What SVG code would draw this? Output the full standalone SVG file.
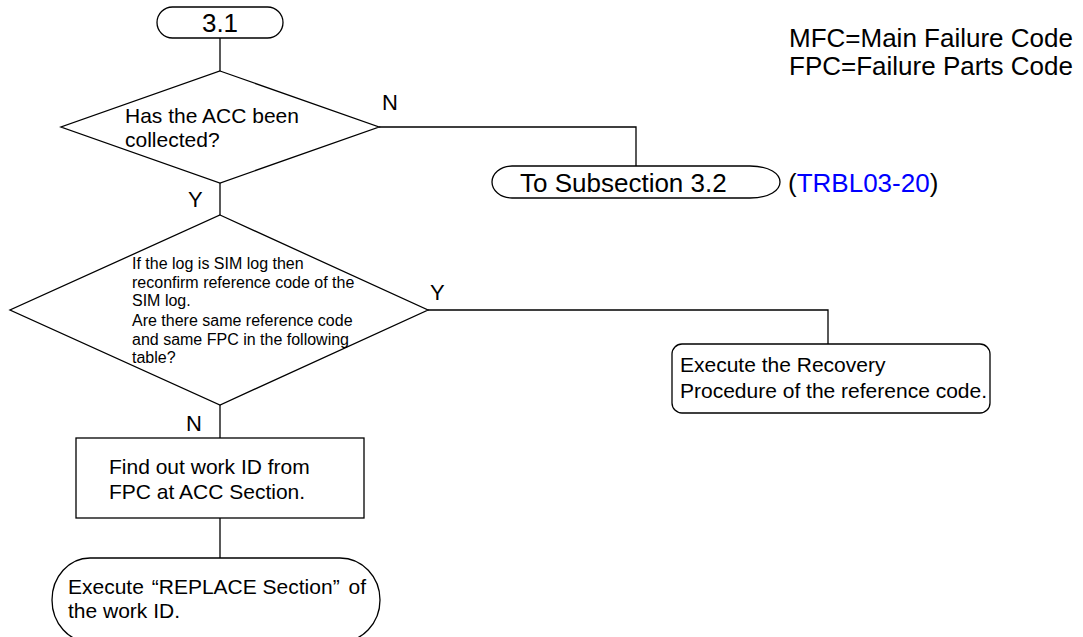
<svg xmlns="http://www.w3.org/2000/svg" width="1083" height="637" viewBox="0 0 1083 637">
<style>
.s{fill:#fff;stroke:#000;stroke-width:1.3}
.c{fill:none;stroke:#000;stroke-width:1.3}
text{font-family:"Liberation Sans",Arial,sans-serif;fill:#000}
.t21{font-size:21px}
.t16{font-size:16px}
.t26{font-size:26px}
.lbl{font-size:22px}
.blue{fill:#0000ff}
</style>
<rect width="1083" height="637" fill="#fff"/>
<g id="connectors">
<path class="c" d="M220,38 V71"/>
<path class="c" d="M379,127 H636 V166"/>
<path class="c" d="M220,183 V215"/>
<path class="c" d="M428,310 H828 V344"/>
<path class="c" d="M220,405 V438"/>
<path class="c" d="M220,518 V558"/>
<text class="lbl" x="382" y="110">N</text>
<text class="lbl" x="188" y="207">Y</text>
<text class="lbl" x="430" y="300">Y</text>
<text class="lbl" x="186" y="431">N</text>
</g>
<g id="start">
<rect class="s" x="157" y="7" width="126" height="31" rx="15.5" ry="15.5"/>
<text class="t26" x="220" y="32" text-anchor="middle">3.1</text>
</g>
<g id="decision1">
<polygon class="s" points="220,71 379,127 220,183 61,127"/>
<text class="t21" x="125" y="123">Has the ACC been</text>
<text class="t21" x="125" y="147">collected?</text>
</g>
<g id="to32">
<path class="s" d="M512,166 H750 C770,166 780,174 780,182 C780,190 770,198 750,198 H512 C500,198 492,190 492,182 C492,174 500,166 512,166 Z"/>
<text class="t26" x="520" y="192">To Subsection 3.2</text>
<text class="t26" x="788" y="192">(<tspan class="blue">TRBL03-20</tspan>)</text>
</g>
<g id="legend">
<text class="t26" x="789" y="47">MFC=Main Failure Code</text>
<text class="t26" x="789" y="75">FPC=Failure Parts Code</text>
</g>
<g id="decision2">
<polygon class="s" points="220,215 428,310 220,405 10,310"/>
<text class="t16" x="132" y="269">If the log is SIM log then</text>
<text class="t16" x="132" y="287.5">reconfirm reference code of the</text>
<text class="t16" x="132" y="306">SIM log.</text>
<text class="t16" x="132" y="325.5">Are there same reference code</text>
<text class="t16" x="132" y="344.5">and same FPC in the following</text>
<text class="t16" x="132" y="363">table?</text>
</g>
<g id="recovery">
<rect class="s" x="672" y="344" width="318" height="69" rx="10" ry="10"/>
<text class="t21" x="680" y="372">Execute the Recovery</text>
<text class="t21" x="680" y="398">Procedure of the reference code.</text>
</g>
<g id="findwork">
<rect class="s" x="76" y="438" width="288" height="80"/>
<text class="t21" x="109" y="474">Find out work ID from</text>
<text class="t21" x="109" y="499">FPC at ACC Section.</text>
</g>
<g id="replace">
<path class="s" d="M90,558 H340 A40 42 0 0 1 340,642 H90 A38 42 0 0 1 90,558 Z"/>
<text class="t21" x="68" y="594">Execute <tspan dx="2">“REPLACE Section”</tspan><tspan dx="3"> of</tspan></text>
<text class="t21" x="68" y="618">the work ID.</text>
</g>
</svg>
